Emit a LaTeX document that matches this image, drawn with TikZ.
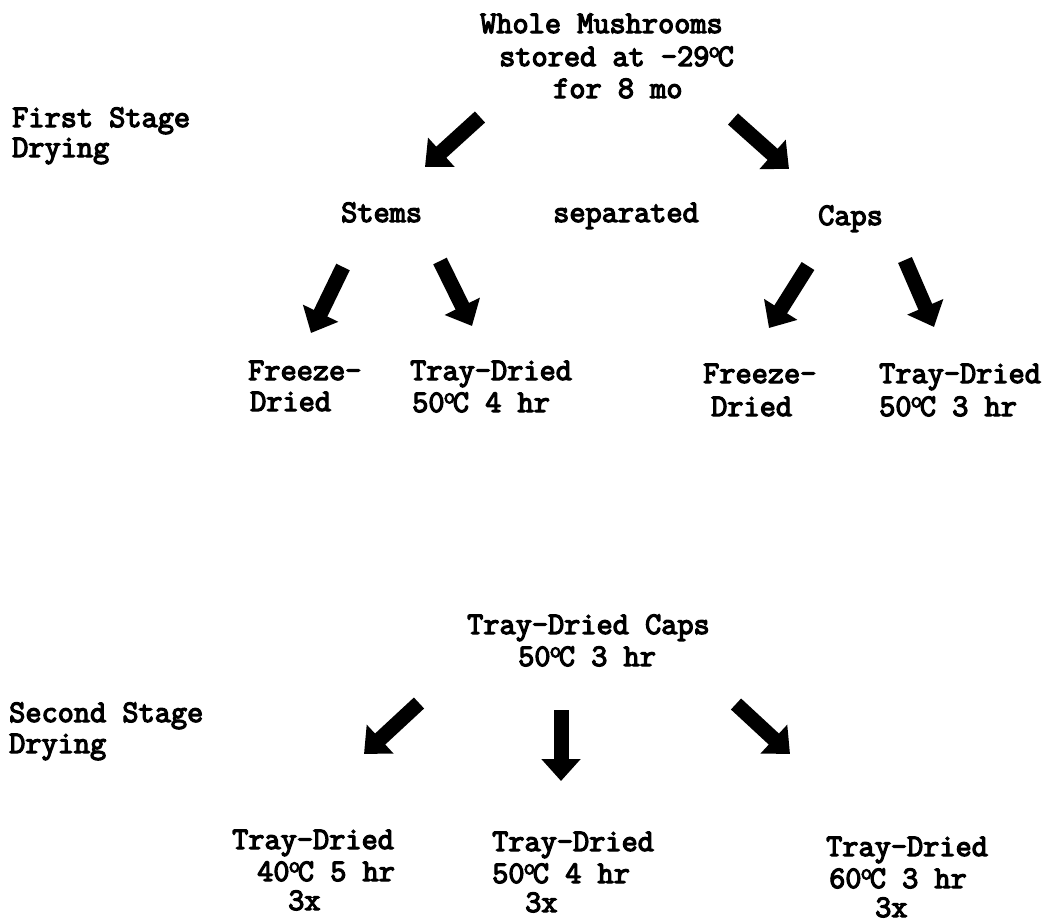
\documentclass[tikz,border=0pt]{standalone}
\usepackage{fontspec}
\newfontfamily\twfont{Latin Modern Mono}[FakeBold=4]
\usetikzlibrary{arrows.meta}
\newcommand{\degsup}{\kern-1pt\raisebox{8.6pt}{\fontsize{23}{23}\selectfont o}\kern-2.5pt}
\begin{document}
\begin{tikzpicture}[x=1pt,y=-1pt,
  txt/.style={anchor=base west,inner sep=0pt,font=\twfont\fontsize{31.4}{33}\selectfont},
  bigarrow/.style={line width=15pt,-{Triangle[length=22pt,width=38pt]}}]
\useasboundingbox (0,0) rectangle (1050,922);
% first stage
\node[txt] (w1) at (480,33) {Whole Mushrooms};
\node[txt] (w2) at (499,66) {stored at -29\degsup C};
\node[txt] (w3) at (553,98) {for 8 mo};
\node[txt] (fs1) at (12,127) {First Stage};
\node[txt] (fs2) at (12,157) {Drying};
\node[txt] (stems) at (341,222) {Stems};
\node[txt] (sep) at (553,222) {separated};
\node[txt] (caps) at (818,225) {Caps};
\node[txt] (sf1) at (248,380) {Freeze-};
\node[txt] (sf2) at (250,411) {Dried};
\node[txt] (st1) at (410,380) {Tray-Dried};
\node[txt] (st2) at (412,412) {50\degsup C 4 hr};
\node[txt] (cf1) at (703,383) {Freeze-};
\node[txt] (cf2) at (711,416) {Dried};
\node[txt] (ct1) at (879,383) {Tray-Dried};
\node[txt] (ct2) at (879,416) {50\degsup C 3 hr};
% second stage
\node[txt] (tc1) at (467,634) {Tray-Dried Caps};
\node[txt] (tc2) at (518,666) {50\degsup C 3 hr};
\node[txt] (ss1) at (9,722) {Second Stage};
\node[txt] (ss2) at (9,753) {Drying};
\node[txt] (l1) at (232,849) {Tray-Dried};
\node[txt] (l2) at (257,881) {40\degsup C 5 hr};
\node[txt] (l3) at (288,910) {3x};
\node[txt] (m1) at (492,851) {Tray-Dried};
\node[txt] (m2) at (492,883) {50\degsup C 4 hr};
\node[txt] (m3) at (525,912) {3x};
\node[txt] (r1) at (826,856) {Tray-Dried};
\node[txt] (r2) at (829,888) {60\degsup C 3 hr};
\node[txt] (r3) at (875,917) {3x};
% arrow end points
\coordinate (a1s) at (480,117); \coordinate (a1e) at (425,167);
\coordinate (a2s) at (733,119); \coordinate (a2e) at (789,169);
\coordinate (a3s) at (343,267); \coordinate (a3e) at (311,333);
\coordinate (a4s) at (440,261); \coordinate (a4e) at (472,326);
\coordinate (a5s) at (808,266); \coordinate (a5e) at (769,328);
\coordinate (a6s) at (905,260); \coordinate (a6e) at (934,327);
\coordinate (b1s) at (419,703); \coordinate (b1e) at (364,754);
\coordinate (b2s) at (561,710); \coordinate (b2e) at (561,781);
\coordinate (b3s) at (736,704); \coordinate (b3e) at (790,754);
\foreach \s/\e in {a1s/a1e,a2s/a2e,a3s/a3e,a4s/a4e,a5s/a5e,a6s/a6e,b1s/b1e,b2s/b2e,b3s/b3e}
  \draw[bigarrow] (\s) -- (\e);
\end{tikzpicture}
\end{document}
